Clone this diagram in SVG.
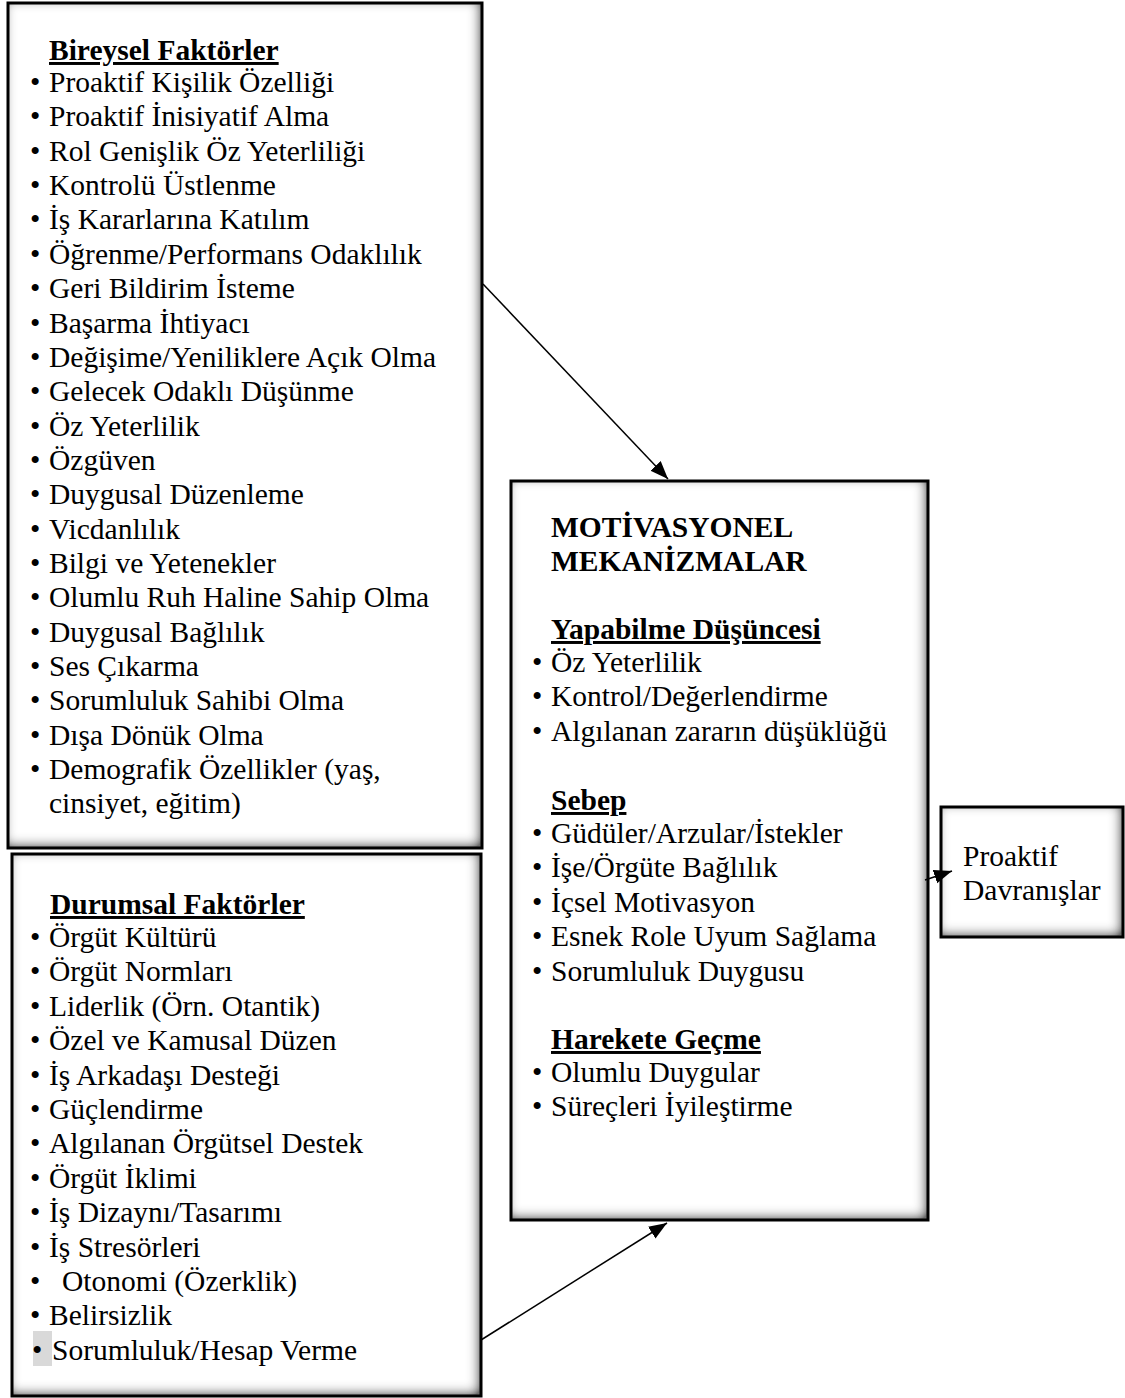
<svg xmlns="http://www.w3.org/2000/svg" width="1125" height="1398" viewBox="0 0 1125 1398">
  <style>
    text { font-family: "Liberation Serif", "Times New Roman", serif; font-size: 29.5px; fill: #000; }
    .h { font-weight: bold; }
    .u { text-decoration: underline; }
    .frame { fill: none; stroke: #000; stroke-width: 3; }
    .panel { fill: #fff; filter: url(#inset); }
    .conn { stroke: #000; stroke-width: 1.5; fill: none; marker-end: url(#head); }
  </style>
  <defs>
    <!-- soft inner shadow along the box edges, heavier at right and bottom -->
    <filter id="inset" x="-10%" y="-10%" width="120%" height="120%">
      <feComponentTransfer in="SourceAlpha" result="inv">
        <feFuncA type="table" tableValues="1 0"/>
      </feComponentTransfer>
      <feGaussianBlur in="inv" stdDeviation="6" result="blur"/>
      <feOffset in="blur" dx="-3" dy="-3" result="off"/>
      <feComponentTransfer in="off" result="strong">
        <feFuncA type="linear" slope="1.35"/>
      </feComponentTransfer>
      <feFlood flood-color="#000" flood-opacity="0.85"/>
      <feComposite operator="in" in2="strong" result="shade"/>
      <feComposite in="shade" in2="SourceAlpha" operator="in" result="inner"/>
      <feMerge>
        <feMergeNode in="SourceGraphic"/>
        <feMergeNode in="inner"/>
      </feMerge>
    </filter>
    <marker id="head" markerUnits="userSpaceOnUse" markerWidth="20" markerHeight="16" refX="18" refY="7" orient="auto">
      <path d="M0,0 L18,7 L0,14 Z" fill="#000"/>
    </marker>
  </defs>

  <rect width="1125" height="1398" fill="#fff"/>

  <!-- Individual factors -->
  <g id="bireysel">
    <rect class="panel" x="8" y="3" width="474" height="845"/>
    <rect class="frame" x="8" y="3" width="474" height="845"/>
    <text class="h u" x="49" y="60">Bireysel Faktörler</text>
    <g>
      <text x="30" y="92">•</text><text x="49" y="92">Proaktif Kişilik Özelliği</text>
      <text x="30" y="126.4">•</text><text x="49" y="126.4">Proaktif İnisiyatif Alma</text>
      <text x="30" y="160.7">•</text><text x="49" y="160.7">Rol Genişlik Öz Yeterliliği</text>
      <text x="30" y="195.1">•</text><text x="49" y="195.1">Kontrolü Üstlenme</text>
      <text x="30" y="229.4">•</text><text x="49" y="229.4">İş Kararlarına Katılım</text>
      <text x="30" y="263.8">•</text><text x="49" y="263.8">Öğrenme/Performans Odaklılık</text>
      <text x="30" y="298.1">•</text><text x="49" y="298.1">Geri Bildirim İsteme</text>
      <text x="30" y="332.5">•</text><text x="49" y="332.5">Başarma İhtiyacı</text>
      <text x="30" y="366.8">•</text><text x="49" y="366.8">Değişime/Yeniliklere Açık Olma</text>
      <text x="30" y="401.2">•</text><text x="49" y="401.2">Gelecek Odaklı Düşünme</text>
      <text x="30" y="435.5">•</text><text x="49" y="435.5">Öz Yeterlilik</text>
      <text x="30" y="469.9">•</text><text x="49" y="469.9">Özgüven</text>
      <text x="30" y="504.2">•</text><text x="49" y="504.2">Duygusal Düzenleme</text>
      <text x="30" y="538.6">•</text><text x="49" y="538.6">Vicdanlılık</text>
      <text x="30" y="572.9">•</text><text x="49" y="572.9">Bilgi ve Yetenekler</text>
      <text x="30" y="607.3">•</text><text x="49" y="607.3">Olumlu Ruh Haline Sahip Olma</text>
      <text x="30" y="641.6">•</text><text x="49" y="641.6">Duygusal Bağlılık</text>
      <text x="30" y="676">•</text><text x="49" y="676">Ses Çıkarma</text>
      <text x="30" y="710.3">•</text><text x="49" y="710.3">Sorumluluk Sahibi Olma</text>
      <text x="30" y="744.7">•</text><text x="49" y="744.7">Dışa Dönük Olma</text>
      <text x="30" y="779">•</text><text x="49" y="779">Demografik Özellikler (yaş,</text>
      <text x="49" y="813.4">cinsiyet, eğitim)</text>
    </g>
  </g>

  <!-- Situational factors -->
  <g id="durumsal">
    <rect class="panel" x="12" y="854" width="469" height="542"/>
    <rect class="frame" x="12" y="854" width="469" height="542"/>
    <text class="h u" x="50" y="914">Durumsal Faktörler</text>
    <g>
      <text x="30" y="947">•</text><text x="49" y="947">Örgüt Kültürü</text>
      <text x="30" y="981.4">•</text><text x="49" y="981.4">Örgüt Normları</text>
      <text x="30" y="1015.8">•</text><text x="49" y="1015.8">Liderlik (Örn. Otantik)</text>
      <text x="30" y="1050.2">•</text><text x="49" y="1050.2">Özel ve Kamusal Düzen</text>
      <text x="30" y="1084.6">•</text><text x="49" y="1084.6">İş Arkadaşı Desteği</text>
      <text x="30" y="1119">•</text><text x="49" y="1119">Güçlendirme</text>
      <text x="30" y="1153.4">•</text><text x="49" y="1153.4">Algılanan Örgütsel Destek</text>
      <text x="30" y="1187.8">•</text><text x="49" y="1187.8">Örgüt İklimi</text>
      <text x="30" y="1222.2">•</text><text x="49" y="1222.2">İş Dizaynı/Tasarımı</text>
      <text x="30" y="1256.6">•</text><text x="49" y="1256.6">İş Stresörleri</text>
      <text x="30" y="1291">•</text><text x="62" y="1291">Otonomi (Özerklik)</text>
      <text x="30" y="1325.4">•</text><text x="49" y="1325.4">Belirsizlik</text>
      <rect x="33" y="1331" width="19" height="35" fill="#d9d9d9"/>
      <text x="32" y="1359.8">•</text><text x="52" y="1359.8">Sorumluluk/Hesap Verme</text>
    </g>
  </g>

  <!-- Motivational mechanisms -->
  <g id="motivasyonel">
    <rect class="panel" x="511" y="481" width="417" height="739"/>
    <rect class="frame" x="511" y="481" width="417" height="739"/>
    <text class="h" x="551" y="537">MOTİVASYONEL</text>
    <text class="h" x="551" y="571">MEKANİZMALAR</text>
    <text class="h u" x="551" y="639">Yapabilme Düşüncesi</text>
    <text x="532" y="672">•</text><text x="551" y="672">Öz Yeterlilik</text>
    <text x="532" y="706.4">•</text><text x="551" y="706.4">Kontrol/Değerlendirme</text>
    <text x="532" y="740.8">•</text><text x="551" y="740.8">Algılanan zararın düşüklüğü</text>
    <text class="h u" x="551" y="810">Sebep</text>
    <text x="532" y="843">•</text><text x="551" y="843">Güdüler/Arzular/İstekler</text>
    <text x="532" y="877.4">•</text><text x="551" y="877.4">İşe/Örgüte Bağlılık</text>
    <text x="532" y="911.8">•</text><text x="551" y="911.8">İçsel Motivasyon</text>
    <text x="532" y="946.2">•</text><text x="551" y="946.2">Esnek Role Uyum Sağlama</text>
    <text x="532" y="980.6">•</text><text x="551" y="980.6">Sorumluluk Duygusu</text>
    <text class="h u" x="551" y="1049">Harekete Geçme</text>
    <text x="532" y="1082">•</text><text x="551" y="1082">Olumlu Duygular</text>
    <text x="532" y="1116.4">•</text><text x="551" y="1116.4">Süreçleri İyileştirme</text>
  </g>

  <!-- Outcome -->
  <g id="davranislar">
    <rect class="panel" x="941" y="807" width="182" height="130"/>
    <rect class="frame" x="941" y="807" width="182" height="130"/>
    <text x="963" y="866">Proaktif</text>
    <text x="963" y="900">Davranışlar</text>
  </g>

  <!-- Connectors -->
  <g id="connectors">
    <line class="conn" x1="483" y1="284" x2="668" y2="479"/>
    <line class="conn" x1="481" y1="1340" x2="667" y2="1223"/>
    <line class="conn" x1="925" y1="880" x2="952" y2="871"/>
  </g>
</svg>
